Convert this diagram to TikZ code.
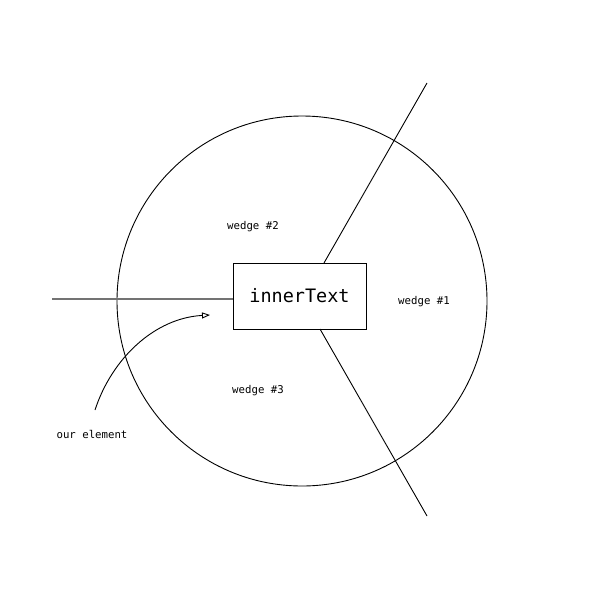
\documentclass[tikz,border=0pt]{standalone}
\usepackage{fontspec}
\setmonofont{DejaVu Sans Mono}
\usetikzlibrary{arrows.meta}
\begin{document}
\begin{tikzpicture}[x=1pt,y=-1pt,
  lbl/.style={font=\ttfamily\fontsize{10.7}{12}\selectfont, inner sep=0pt},
  ln/.style={line width=0.9pt},
  grayln/.style={line width=1.2pt, draw=black!55}]
\useasboundingbox (0,0) rectangle (600,600);
\node[circle, draw, ln, minimum size=370pt, inner sep=0pt] (circ) at (302,301) {};
\node[draw, ln, minimum width=133pt, minimum height=66pt, inner sep=0pt,
  font=\ttfamily\fontsize{18.5}{20}\selectfont] (box) at (299.5,296) {innerText};
\coordinate (lend) at (52,299);
\coordinate (uend) at (427,83);
\coordinate (dend) at (427,516);
\draw[grayln] (lend) -- (box.west |- lend);
\draw[ln] (324,263) coordinate (ustart) -- (uend);
\draw[ln] (320,329) coordinate (dstart) -- (dend);
\node[lbl] (w1) at (424,302) {wedge \#1};
\node[lbl] (w2) at (253,227) {wedge \#2};
\node[lbl] (w3) at (258,391) {wedge \#3};
\node[lbl] (ours) at (92,434) {our element};
\coordinate (astart) at (95,410);
\coordinate (aend) at (210,315);
\draw[ln, -{Triangle[open, length=8pt, width=6pt]}] (astart) .. controls (112,358) and (155,318) .. (aend);
\end{tikzpicture}
\end{document}
